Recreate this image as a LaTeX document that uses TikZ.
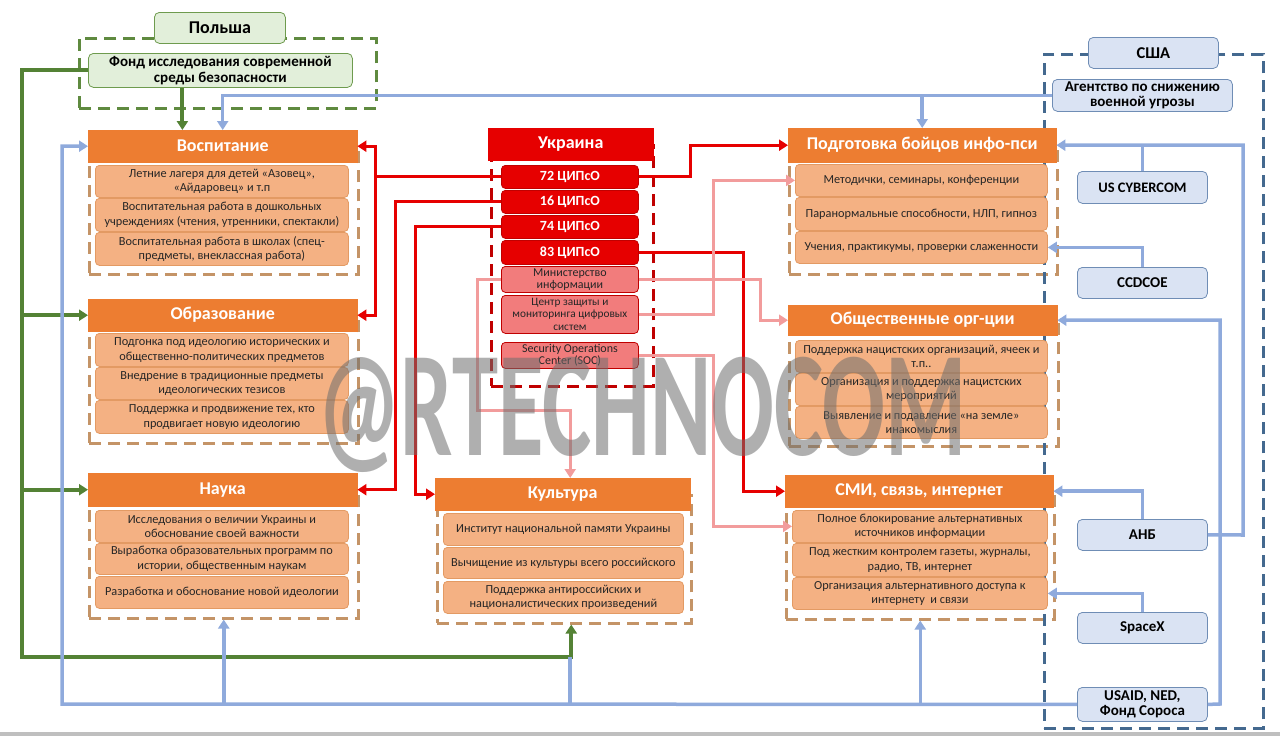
\documentclass[tikz,border=0pt]{standalone}
\usepackage{fontspec}
\setmainfont{Carlito}
\usetikzlibrary{arrows.meta}
\definecolor{orH}{HTML}{ED7D31}
\definecolor{itF}{HTML}{F4B183}
\definecolor{itD}{HTML}{E39A63}
\definecolor{dsh}{HTML}{C49467}
\definecolor{rdM}{HTML}{E60000}
\definecolor{rdD}{HTML}{C00000}
\definecolor{rdL}{HTML}{F27C7C}
\definecolor{pkL}{HTML}{F29C9C}
\definecolor{blL}{HTML}{8FAADC}
\definecolor{blF}{HTML}{DAE3F3}
\definecolor{blD}{HTML}{6F8DB5}
\definecolor{blS}{HTML}{44698F}
\definecolor{grL}{HTML}{548235}
\definecolor{grF}{HTML}{E2EFDA}
\definecolor{grD}{HTML}{6E9B4E}
\definecolor{grS}{HTML}{5F8A3F}
\begin{document}
\begin{tikzpicture}[x=1pt,y=-1pt,
  hdr/.style={fill=orH,draw=orH,text=white,font=\fontsize{18}{20}\selectfont\bfseries,anchor=north west,inner sep=0pt},
  itm/.style={fill=itF,draw=itD,rounded corners=4pt,text=black!85,font=\fontsize{12.3}{14.5}\selectfont,align=center,anchor=north west,inner sep=0pt,line width=0.8pt},
  cnt/.style={draw=dsh,dash pattern=on 12pt off 7pt,line width=2.5pt,anchor=north west,inner sep=0pt},
  uhd/.style={fill=rdM,draw=rdM,text=white,font=\fontsize{18}{20}\selectfont\bfseries,anchor=north west,inner sep=0pt},
  urd/.style={fill=rdM,draw=rdD,rounded corners=4pt,text=white,font=\fontsize{14}{15}\selectfont\bfseries,anchor=north west,inner sep=0pt,line width=0.8pt},
  upk/.style={fill=rdL,draw=rdD,rounded corners=4pt,text=black!85,font=\fontsize{12}{12.5}\selectfont,align=center,anchor=north west,inner sep=0pt,line width=0.8pt},
  ucn/.style={draw=rdD,dash pattern=on 12pt off 7pt,line width=2.5pt,anchor=north west,inner sep=0pt},
  usb/.style={fill=blF,draw=blD,rounded corners=5pt,text=black,font=\fontsize{15}{15.5}\selectfont\bfseries,align=center,anchor=north west,inner sep=0pt,line width=0.8pt},
  grb/.style={fill=grF,draw=grD,rounded corners=5pt,text=black,font=\fontsize{15}{16}\selectfont\bfseries,align=center,anchor=north west,inner sep=0pt,line width=0.8pt},
  tip/.style={-{Triangle[length=9pt,width=11pt]}},
  grl/.style={draw=grL,line width=4pt,tip},
  bll/.style={draw=blL,line width=3.5pt,tip},
  rdl/.style={draw=rdM,line width=3pt,tip},
  pkl/.style={draw=pkL,line width=3pt,tip},
  wm/.style={text=black!57,text opacity=0.55,inner sep=0pt}
]
\useasboundingbox (0,0) rectangle (1280,736);
\fill[black!25] (0,732) rectangle (1280,736);

% ---------- containers ----------
\node[cnt,draw=grS,minimum width=297pt,minimum height=70pt] (plC) at (78,37) {};
\node[cnt,minimum width=269pt,minimum height=127pt] (vC) at (88,146) {};
\node[cnt,minimum width=269pt,minimum height=126pt] (oC) at (88,316) {};
\node[cnt,minimum width=269pt,minimum height=127pt] (nC) at (88,490) {};
\node[ucn,minimum width=162pt,minimum height=241pt] (uC) at (490,144) {};
\node[cnt,minimum width=254pt,minimum height=128pt] (kC) at (436,494) {};
\node[cnt,minimum width=268pt,minimum height=128pt] (pC) at (788,145) {};
\node[cnt,minimum width=269pt,minimum height=125pt] (gC) at (788,320) {};
\node[cnt,minimum width=268pt,minimum height=127pt] (sC) at (785,491) {};
\node[draw=blS,dash pattern=on 12pt off 7pt,line width=2.5pt,anchor=north west,inner sep=0pt,minimum width=219pt,minimum height=674pt] (usC) at (1043,53) {};

% ---------- coordinates ----------
\coordinate (gc) at (22,657);
\coordinate (gk) at (570,657);
\coordinate (bl) at (62,704);
\coordinate (r1) at (1220,704);
\coordinate (r2) at (1243,535);
\coordinate (ra) at (375,0);
\coordinate (rb) at (395,0);
\coordinate (rc) at (415,0);
\coordinate (rd) at (690,0);
\coordinate (re) at (743,0);
\coordinate (pa) at (477,410);
\coordinate (pb) at (760,0);
\coordinate (pc) at (713,0);

% ---------- Poland ----------
\node[grb,minimum width=131pt,minimum height=31pt,font=\fontsize{18}{19}\selectfont\bfseries] (pl) at (154,12) {Польша};
\node[grb,minimum width=264pt,minimum height=34pt] (fund) at (88,53) {Фонд исследования современной\\среды безопасности};

% ---------- Воспитание ----------
\node[hdr,minimum width=269pt,minimum height=32pt] (vh) at (88,130) {Воспитание};
\node[itm,minimum width=253pt,minimum height=32pt] (v1) at (95,165) {Летние лагеря для детей «Азовец»,\\«Айдаровец» и т.п};
\node[itm,minimum width=253pt,minimum height=33pt] (v2) at (95,198) {Воспитательная работа в дошкольных\\учреждениях (чтения, утренники, спектакли)};
\node[itm,minimum width=253pt,minimum height=33pt] (v3) at (95,232) {Воспитательная работа в школах (спец-\\предметы, внеклассная работа)};

% ---------- Образование ----------
\node[hdr,minimum width=269pt,minimum height=32pt] (oh) at (88,299) {Образование};
\node[itm,minimum width=253pt,minimum height=33pt] (o1) at (95,333) {Подгонка под идеологию исторических и\\общественно-политических предметов};
\node[itm,minimum width=253pt,minimum height=32pt] (o2) at (95,367) {Внедрение в традиционные предметы\\идеологических тезисов};
\node[itm,minimum width=253pt,minimum height=33pt] (o3) at (95,400) {Поддержка и продвижение тех, кто\\продвигает новую идеологию};

% ---------- Наука ----------
\node[hdr,minimum width=269pt,minimum height=33pt] (nh) at (88,473) {Наука};
\node[itm,minimum width=253pt,minimum height=32pt] (n1) at (95,510) {Исследования о величии Украины и\\обоснование своей важности};
\node[itm,minimum width=253pt,minimum height=31pt] (n2) at (95,543) {Выработка образовательных программ по\\истории, общественным наукам};
\node[itm,minimum width=253pt,minimum height=32pt] (n3) at (95,576) {Разработка и обоснование новой идеологии};

% ---------- Украина ----------
\node[uhd,minimum width=165pt,minimum height=32pt] (uh) at (488,128) {Украина};
\node[urd,minimum width=137pt,minimum height=23pt] (u72) at (501,165) {72 ЦИПсО};
\node[urd,minimum width=137pt,minimum height=23pt] (u16) at (501,190) {16 ЦИПсО};
\node[urd,minimum width=137pt,minimum height=23pt] (u74) at (501,215) {74 ЦИПсО};
\node[urd,minimum width=137pt,minimum height=24pt] (u83) at (501,240) {83 ЦИПсО};
\node[upk,minimum width=137pt,minimum height=26pt] (umin) at (501,266) {Министерство\\информации};
\node[upk,minimum width=137pt,minimum height=38pt,font=\fontsize{11.3}{12.3}\selectfont] (ucen) at (501,295) {Центр защиты и\\мониторинга цифровых\\систем};
\node[upk,minimum width=137pt,minimum height=26pt] (usoc) at (501,342) {Security Operations\\Center (SOC)};

% ---------- Культура ----------
\node[hdr,minimum width=255pt,minimum height=32pt] (kh) at (435,478) {Культура};
\node[itm,minimum width=240pt,minimum height=32pt] (k1) at (443,513) {Институт национальной памяти Украины};
\node[itm,minimum width=240pt,minimum height=31pt] (k2) at (443,547) {Вычищение из культуры всего российского};
\node[itm,minimum width=240pt,minimum height=32pt] (k3) at (443,581) {Поддержка антироссийских и\\националистических произведений};

% ---------- Подготовка ----------
\node[hdr,minimum width=268pt,minimum height=34pt] (ph) at (788,128) {Подготовка бойцов инфо-пси};
\node[itm,minimum width=252pt,minimum height=32pt] (p1) at (795,164) {Методички, семинары, конференции};
\node[itm,minimum width=252pt,minimum height=33pt] (p2) at (795,197) {Паранормальные способности, НЛП, гипноз};
\node[itm,minimum width=252pt,minimum height=32pt] (p3) at (795,231) {Учения, практикумы, проверки слаженности};

% ---------- Общественные ----------
\node[hdr,minimum width=269pt,minimum height=30pt] (oh2) at (788,305) {Общественные орг-ции};
\node[itm,minimum width=252pt,minimum height=32pt] (g1) at (795,340) {Поддержка нацистских организаций, ячеек и\\т.п..};
\node[itm,minimum width=252pt,minimum height=32pt] (g2) at (795,373) {Организация и поддержка нацистских\\мероприятий};
\node[itm,minimum width=252pt,minimum height=32pt] (g3) at (795,406) {Выявление и подавление «на земле»\\инакомыслия};

% ---------- СМИ ----------
\node[hdr,minimum width=268pt,minimum height=32pt] (sh) at (785,475) {СМИ, связь, интернет};
\node[itm,minimum width=255pt,minimum height=32pt] (s1) at (792,510) {Полное блокирование альтернативных\\источников информации};
\node[itm,minimum width=255pt,minimum height=33pt] (s2) at (792,543) {Под жестким контролем газеты, журналы,\\радио, ТВ, интернет};
\node[itm,minimum width=255pt,minimum height=32pt] (s3) at (792,577) {Организация альтернативного доступа к\\интернету\ \ и связи};

% ---------- США ----------
\node[usb,minimum width=130pt,minimum height=31pt,font=\fontsize{16.5}{18}\selectfont\bfseries] (usa) at (1088,37) {США};
\node[usb,minimum width=180pt,minimum height=32pt] (agency) at (1052,79) {Агентство по снижению\\военной угрозы};
\node[usb,minimum width=130pt,minimum height=32pt,font=\fontsize{14.5}{16}\selectfont\bfseries] (cyber) at (1077,171) {US CYBERCOM};
\node[usb,minimum width=130pt,minimum height=31pt] (ccd) at (1077,267) {CCDCOE};
\node[usb,minimum width=130pt,minimum height=31pt] (anb) at (1077,519) {АНБ};
\node[usb,minimum width=130pt,minimum height=31pt] (spx) at (1077,612) {SpaceX};
\node[usb,minimum width=130pt,minimum height=34pt] (usaid) at (1077,687) {USAID, NED,\\Фонд Сороса};

% ---------- green connectors ----------
\draw[grl] (fund.west) -| (gc) -| ([xshift=7pt]kC.south);
\draw[grl] (gc |- oh.west) -- (oh.west);
\draw[grl] (gc |- nh.west) -- (nh.west);
\draw[grl] ([xshift=-38pt]fund.south) -- ([xshift=-38pt]fund.south |- vh.north);

% ---------- blue connectors ----------
\draw[bll] (agency.west) -| (vh.north);
\draw[bll] (ph.north |- agency.west) -- (ph.north);
\draw[bll] (usaid.west) -- (bl) |- (vh.west);
\draw[bll] (bl -| nC.south) -- (nC.south);
\draw[bll,-] (gk |- bl) -- (gk);
\draw[bll] (bl -| sC.south) -- (sC.south);
\draw[bll] (usaid.east) -- (r1) |- (oh2.east);
\draw[bll] (anb.east) -- (r2) |- (ph.east);
\draw[bll,-] (cyber.north) -- (cyber.north |- ph.east);
\draw[bll] (anb.north) |- (sh.east);
\draw[bll] (ccd.north) |- (p3.east);
\draw[bll] (spx.north) |- (s3.east);

% ---------- red connectors ----------
\draw[rdl] (u72.west) -- (u72.west -| ra) |- (vh.east);
\draw[rdl] (u72.west -| ra) |- (oh.east);
\draw[rdl] (u16.west) -- (u16.west -| rb) |- (nh.east);
\draw[rdl] (u74.west) -- (u74.west -| rc) |- (kh.west);
\draw[rdl] (u72.east) -- (u72.east -| rd) |- (ph.west);
\draw[rdl] (u83.east) -- (u83.east -| re) |- (sh.west);

% ---------- pink connectors ----------
\draw[pkl] (umin.west) -| (pa) -| ([xshift=7.5pt]kh.north);
\draw[pkl] (umin.east) -- (umin.east -| pb) |- (oh2.west);
\draw[pkl] (ucen.east) -- (ucen.east -| pc) |- (p1.west);
\draw[pkl] (usoc.east) -- (usoc.east -| pc) |- (s1.west);

% ---------- watermark ----------
\node[wm] (wmk) at (642,415) {\scalebox{0.62}[1]{\fontsize{150}{150}\selectfont\bfseries @RTECHNOCOM}};
\end{tikzpicture}
\end{document}
